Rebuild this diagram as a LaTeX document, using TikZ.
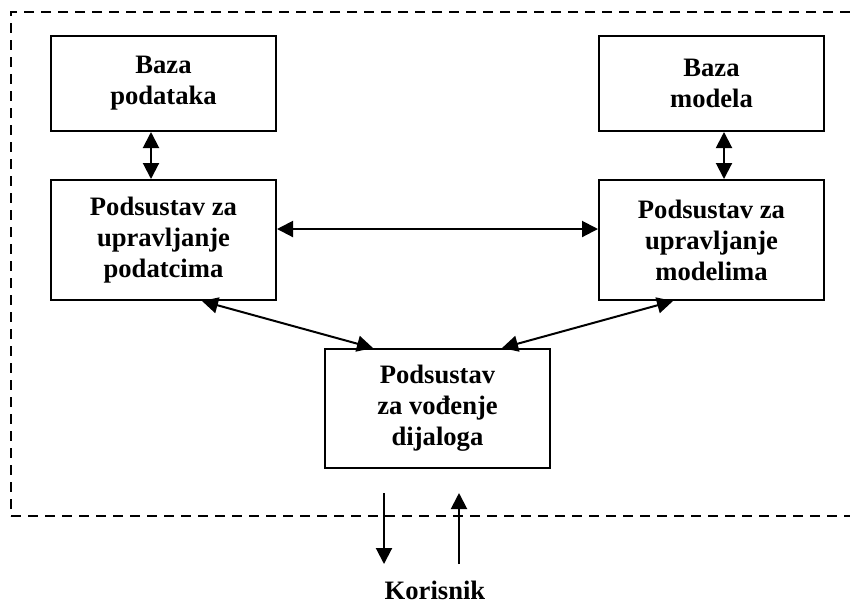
\documentclass[tikz,border=0pt]{standalone}
\usepackage{fontspec}
\setmainfont{Liberation Serif}
\usepackage{tikz}
\usetikzlibrary {arrows.meta}

\tikzset{
  blok/.style={draw, line width=1pt, minimum width=112.5pt, inner sep=0pt,
    align=center, font=\bfseries\fontsize{13.3}{15.5}\selectfont},
  veza/.style={line width=1pt, {Triangle[length=8pt,width=8pt]}-{Triangle[length=8pt,width=8pt]}},
  smjer/.style={line width=1pt, -{Triangle[length=8pt,width=8pt]}}
}

\begin{document}
\begin{tikzpicture}[x=0.5pt, y=-0.5pt]
        \useasboundingbox (0,0) rectangle (850,602);

        % Granica sustava
        \draw[dashed, line width=1pt, dash pattern=on 5pt off 3.5pt] (850,12) -- (11,12) -- (11,516);
        \draw[dashed, line width=1pt, dash pattern=on 5pt off 3.5pt] (11,516) -- (850,516);

        % Baze
        \node[blok, minimum height=47.5pt] (bazaPod) at (163.5,83.5) {Baza\\podataka};
        \node[blok, minimum height=47.5pt] (bazaMod) at (711.5,83.5) {Baza\\modela};

        % Podsustavi
        \node[blok, minimum height=60pt] (upravPod) at (163.5,240) {Podsustav za\\upravljanje\\podatcima};
        \node[blok, minimum height=60pt] (upravMod) at (711.5,240) {Podsustav za\\upravljanje\\modelima};
        \node[blok, minimum height=59.5pt] (dijalog) at (437.5,408.5) {Podsustav\\za vođenje\\dijaloga};

        % Korisnik
        \node[font=\bfseries\fontsize{13.3}{15.5}\selectfont] (korisnik) at (435,590) {Korisnik};
        \coordinate (izlazA) at (384,493);
        \coordinate (izlazB) at (384,564);
        \coordinate (ulazA) at (459,564);
        \coordinate (ulazB) at (459,493);

        % Veze
        \draw[veza] ([xshift=-6.25pt]bazaPod.south) -- ([xshift=-6.25pt]upravPod.north);
        \draw[veza] ([xshift=6.25pt]bazaMod.south) -- ([xshift=6.25pt]upravMod.north);
        \draw[veza] ([yshift=5.5pt]upravPod.east) -- ([yshift=5.5pt]upravMod.west);
        \draw[veza] ([xshift=19.25pt]upravPod.south) -- ([xshift=-32.25pt]dijalog.north);
        \draw[veza] ([xshift=-19.25pt]upravMod.south) -- ([xshift=32.25pt]dijalog.north);
        \draw[smjer] (izlazA) -- (izlazB);
        \draw[smjer] (ulazA) -- (ulazB);
\end{tikzpicture}
\end{document}
